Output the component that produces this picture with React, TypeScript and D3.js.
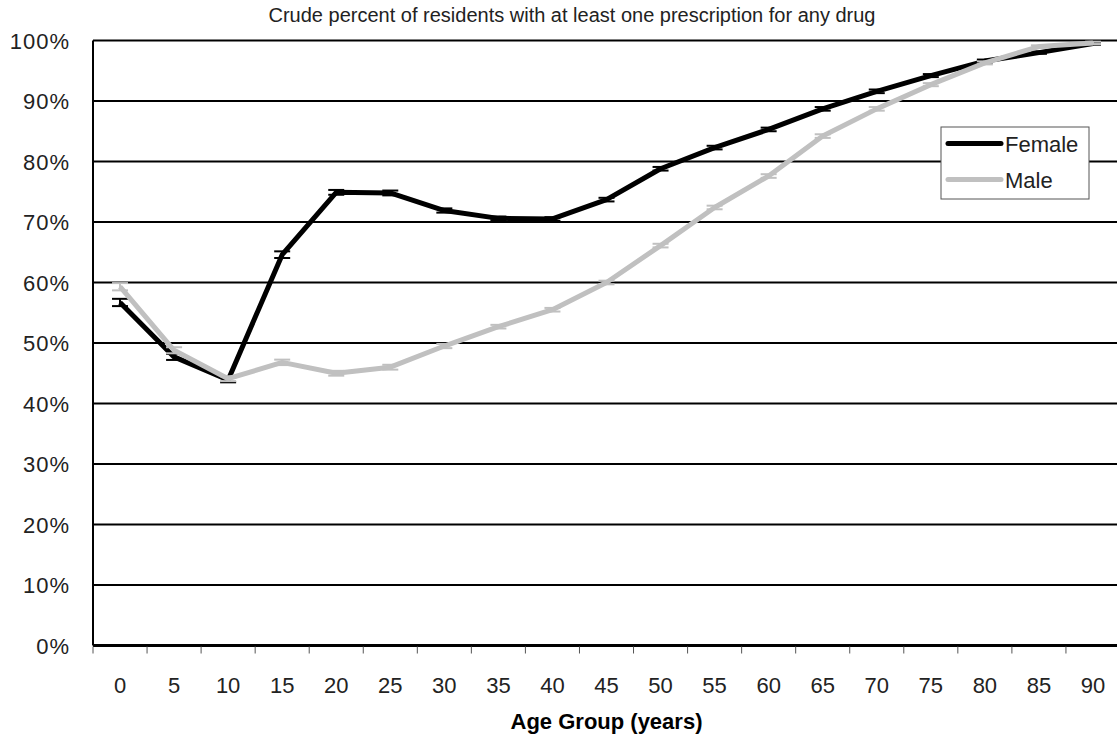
import React from "react";
import * as d3 from "d3";

const ageGroups = ["0","5","10","15","20","25","30","35","40","45","50","55","60","65","70","75","80","85","90"];
const femaleValues = [56.7,47.7,43.9,64.6,74.9,74.8,71.9,70.6,70.5,73.7,78.8,82.3,85.3,88.7,91.6,94.2,96.6,98.0,99.5];
const maleValues = [59.3,48.8,44.1,46.8,45.0,46.0,49.5,52.7,55.5,60.0,66.1,72.4,77.6,84.2,88.7,92.7,96.3,99.0,99.6];
const femaleErr = [0.6,0.5,0.4,0.55,0.4,0.4,0.35,0.3,0.3,0.3,0.3,0.3,0.3,0.3,0.3,0.25,0.25,0.2,0.2];
const maleErr = [0.6,0.5,0.4,0.45,0.4,0.4,0.35,0.3,0.3,0.3,0.3,0.3,0.3,0.3,0.3,0.25,0.25,0.2,0.2];
const yTicks = [0,10,20,30,40,50,60,70,80,90,100];
const titleText = "Crude percent of residents with at least one prescription for any drug";
const xTitle = "Age Group (years)";
const seriesNames = ["Female", "Male"];

const W = 1117, H = 740;
const left = 93, right = 1120, top = 40.5, bottom = 645.5;
const FONT = "'Liberation Sans', Arial, sans-serif";

export default function App() {
  const x = d3.scaleBand<string>().domain(ageGroups).range([left, right]);
  const y = d3.scaleLinear().domain([0, 100]).range([bottom, top]);
  const cx = (a: string) => (x(a) as number) + x.bandwidth() / 2;
  const line = d3.line<number>().x((_, i) => cx(ageGroups[i])).y((v) => y(v));
  const series = [
    { name: seriesNames[0], values: femaleValues, err: femaleErr, color: "#000000" },
    { name: seriesNames[1], values: maleValues, err: maleErr, color: "#c0c0c0" },
  ];
  const tickXs = ageGroups.map((a) => x(a) as number).concat([right]);
  return (
    <svg width={W} height={H} style={{ position: "absolute", left: 0, top: 0, background: "#fff" }} fontFamily={FONT}>
      <rect x={0} y={0} width={W} height={H} fill="#fff" />
      <text x={572} y={22} fontSize={20} textAnchor="middle" fill="#222">{titleText}</text>
      {yTicks.map((t) => (
        <g key={t}>
          <line x1={left} x2={right} y1={y(t)} y2={y(t)} stroke="#000" strokeWidth={t === 0 ? 3 : 2} />
          <text x={70} y={y(t) + 8} fontSize={22} textAnchor="end" fill="#222" letterSpacing={1}>{t}%</text>
        </g>
      ))}
      <line x1={left} x2={left} y1={top} y2={bottom} stroke="#000" strokeWidth={2} />
      {tickXs.map((tx, i) => (
        <line key={i} x1={tx} x2={tx} y1={bottom + 1} y2={bottom + 8} stroke="#555" strokeWidth={1} />
      ))}
      {ageGroups.map((a) => (
        <text key={a} x={cx(a)} y={693} fontSize={22} textAnchor="middle" fill="#222">{a}</text>
      ))}
      <text x={(left + right) / 2} y={729} fontSize={22} fontWeight="bold" textAnchor="middle" fill="#000">{xTitle}</text>
      {series.map((s) => (
        <g key={s.name}>
          <path d={line(s.values) as string} fill="none" stroke={s.color} strokeWidth={5} strokeLinejoin="round" />
          {s.values.map((v, i) => {
            const px = cx(ageGroups[i]);
            const y1 = y(v + s.err[i]);
            const y2 = y(v - s.err[i]);
            return (
              <g key={i} stroke={s.color} strokeWidth={2}>
                <line x1={px} x2={px} y1={y1} y2={y2} />
                <line x1={px - 8} x2={px + 8} y1={y1} y2={y1} />
                <line x1={px - 8} x2={px + 8} y1={y2} y2={y2} />
              </g>
            );
          })}
        </g>
      ))}
      <g>
        <rect x={941} y={127} width={148} height={72} fill="#fff" stroke="#555" strokeWidth={1} />
        {series.map((s, i) => (
          <g key={s.name}>
            <line x1={948} x2={1001} y1={143.5 + i * 36} y2={143.5 + i * 36} stroke={s.color} strokeWidth={5} strokeLinecap="round" />
            <text x={1005} y={152 + i * 36} fontSize={22} fill="#222">{s.name}</text>
          </g>
        ))}
      </g>
    </svg>
  );
}
